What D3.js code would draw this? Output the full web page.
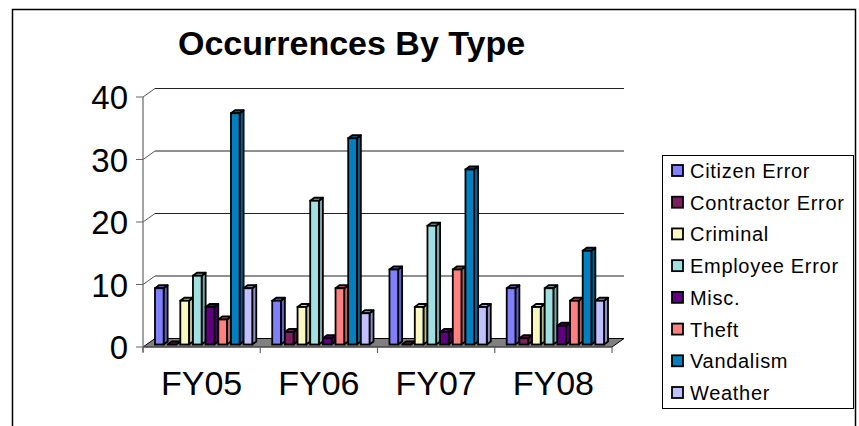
<!DOCTYPE html>
<meta charset="utf-8">
<script src="https://d3js.org/d3.v7.min.js"></script>
<style>
  body { margin: 0; background: #fff; }
  text { font-family: "Liberation Sans", Arial, sans-serif; }
</style>
<body>
<div id="chart"></div>
<script>
var years = ["FY05", "FY06", "FY07", "FY08"]
var types = ["Citizen Error", "Contractor Error", "Criminal", "Employee Error",
             "Misc.", "Theft", "Vandalism", "Weather"]
var colors = ["#8080ff", "#7f1f5f", "#f8f8c0", "#a0e0e0",
              "#600080", "#ff8080", "#0080c0", "#c0c0ff"]
// one array per type, values for FY05..FY08
var citizenError    = [9, 7, 12, 9]
var contractorError = [0, 2, 0, 1]
var criminal        = [7, 6, 6, 6]
var employeeError   = [11, 23, 19, 9]
var misc            = [6, 1, 2, 3]
var theft           = [4, 9, 12, 7]
var vandalism       = [37, 33, 28, 15]
var weather         = [9, 5, 6, 7]
var yTicks = [0, 10, 20, 30, 40]

var series = [citizenError, contractorError, criminal, employeeError, misc, theft, vandalism, weather]

var width = 859, height = 426
var svg = d3.select("#chart").append("svg")
    .attr("width", width)
    .attr("height", height)

// outer frame
svg.append("rect")
    .attr("x", 12.5).attr("y", 9.5)
    .attr("width", 843).attr("height", 440)
    .attr("fill", "none").attr("stroke", "#000").attr("stroke-width", 1.5)

svg.append("text")
    .attr("x", 178).attr("y", 55)
    .style("font-size", "34px").style("font-weight", "bold")
    .text("Occurrences By Type")

var depthX = 12, depthY = -8.5
var x = d3.scaleBand().domain(years).range([143, 612])
var xs = d3.scaleBand().domain(types).range([0, x.bandwidth()]).paddingInner(0).paddingOuter(0.63)
var y = d3.scaleLinear().domain([0, 40]).range([347, 97])

// back wall gridlines
svg.selectAll(".grid")
    .data(yTicks.slice(1))
    .enter().append("line")
    .attr("x1", 143 + depthX).attr("x2", 612 + depthX)
    .attr("y1", function(d) { return y(d) + depthY })
    .attr("y2", function(d) { return y(d) + depthY })
    .attr("stroke", "#222").attr("stroke-width", 1)

// side wall diagonals
svg.selectAll(".diag")
    .data(yTicks.slice(1))
    .enter().append("line")
    .attr("x1", 143).attr("x2", 143 + depthX)
    .attr("y1", function(d) { return y(d) })
    .attr("y2", function(d) { return y(d) + depthY })
    .attr("stroke", "#555").attr("stroke-width", 1)

// floor
svg.append("path")
    .attr("d", "M143," + y(0) + "L612," + y(0) + "L" + (612 + depthX) + "," + (y(0) + depthY) +
               "L" + (143 + depthX) + "," + (y(0) + depthY) + "Z")
    .attr("fill", "#808080").attr("stroke", "#000").attr("stroke-width", 1)

// y axis
svg.append("line")
    .attr("x1", 143).attr("x2", 143).attr("y1", y(40)).attr("y2", y(0) + 5)
    .attr("stroke", "#666").attr("stroke-width", 1.2)
svg.selectAll(".ytick")
    .data(yTicks)
    .enter().append("line")
    .attr("x1", 136).attr("x2", 143)
    .attr("y1", function(d) { return y(d) }).attr("y2", function(d) { return y(d) })
    .attr("stroke", "#666")
svg.selectAll(".ylab")
    .data(yTicks)
    .enter().append("text")
    .attr("x", 128).attr("y", function(d) { return y(d) + 12 })
    .attr("text-anchor", "end")
    .style("font-size", "33px")
    .text(function(d) { return d })

// x axis
svg.append("line")
    .attr("x1", 143).attr("x2", 612).attr("y1", y(0)).attr("y2", y(0))
    .attr("stroke", "#666").attr("stroke-width", 1.2)
svg.selectAll(".xtick")
    .data(years.concat(["end"]))
    .enter().append("line")
    .attr("x1", function(d, i) { return 143 + i * x.step() })
    .attr("x2", function(d, i) { return 143 + i * x.step() })
    .attr("y1", y(0)).attr("y2", y(0) + 6)
    .attr("stroke", "#666").attr("stroke-width", 1.2)
svg.selectAll(".xlab")
    .data(years)
    .enter().append("text")
    .attr("x", function(d) { return x(d) + x.bandwidth() / 2 })
    .attr("y", 395)
    .attr("text-anchor", "middle")
    .style("font-size", "34px")
    .text(function(d) { return d })

// 3d bars
var bx = 4, by = -2.5, bd = 4, bdy = -3
var bw = xs.bandwidth() - bd
var bars = []
years.forEach(function(yr, i) {
    types.forEach(function(t, j) {
        bars.push({ year: yr, type: t, value: series[j][i], color: colors[j] })
    })
})
var g = svg.selectAll(".bar")
    .data(bars)
    .enter().append("g")
g.each(function(d) {
    var sel = d3.select(this)
    var x0 = x(d.year) + xs(d.type) + bx
    var yb = y(0) + by, yt = y(d.value) + by
    var c = d3.color(d.color)
    sel.append("path")
        .attr("d", "M" + (x0 + bw) + "," + yb + "L" + (x0 + bw + bd) + "," + (yb + bdy) +
                   "L" + (x0 + bw + bd) + "," + (yt + bdy) + "L" + (x0 + bw) + "," + yt + "Z")
        .attr("fill", c.darker(0.8)).attr("stroke", "#000").attr("stroke-width", 1.8)
        .attr("stroke-linejoin", "round")
    sel.append("path")
        .attr("d", "M" + x0 + "," + yt + "L" + (x0 + bd) + "," + (yt + bdy) +
                   "L" + (x0 + bw + bd) + "," + (yt + bdy) + "L" + (x0 + bw) + "," + yt + "Z")
        .attr("fill", c.darker(0.4)).attr("stroke", "#000").attr("stroke-width", 1.8)
        .attr("stroke-linejoin", "round")
    if (d.value > 0) {
        sel.append("rect")
            .attr("x", x0).attr("y", yt)
            .attr("width", bw).attr("height", yb - yt)
            .attr("fill", d.color).attr("stroke", "#000").attr("stroke-width", 1.8)
    }
})

// legend
var legend = svg.append("g")
legend.append("rect")
    .attr("x", 662.5).attr("y", 155.5).attr("width", 191).attr("height", 253)
    .attr("fill", "#fff").attr("stroke", "#000").attr("stroke-width", 1)
var ly = d3.scalePoint().domain(types).range([171, 393])
legend.selectAll(".sw")
    .data(types)
    .enter().append("rect")
    .attr("x", 672).attr("y", function(d) { return ly(d) - 6 })
    .attr("width", 11).attr("height", 11)
    .attr("fill", function(d, i) { return colors[i] })
    .attr("stroke", "#000").attr("stroke-width", 1.8)
legend.selectAll(".lt")
    .data(types)
    .enter().append("text")
    .attr("x", 690).attr("y", function(d) { return ly(d) + 7 })
    .style("font-size", "20px")
    .style("letter-spacing", "0.7px")
    .text(function(d) { return d })
</script>
</body>
